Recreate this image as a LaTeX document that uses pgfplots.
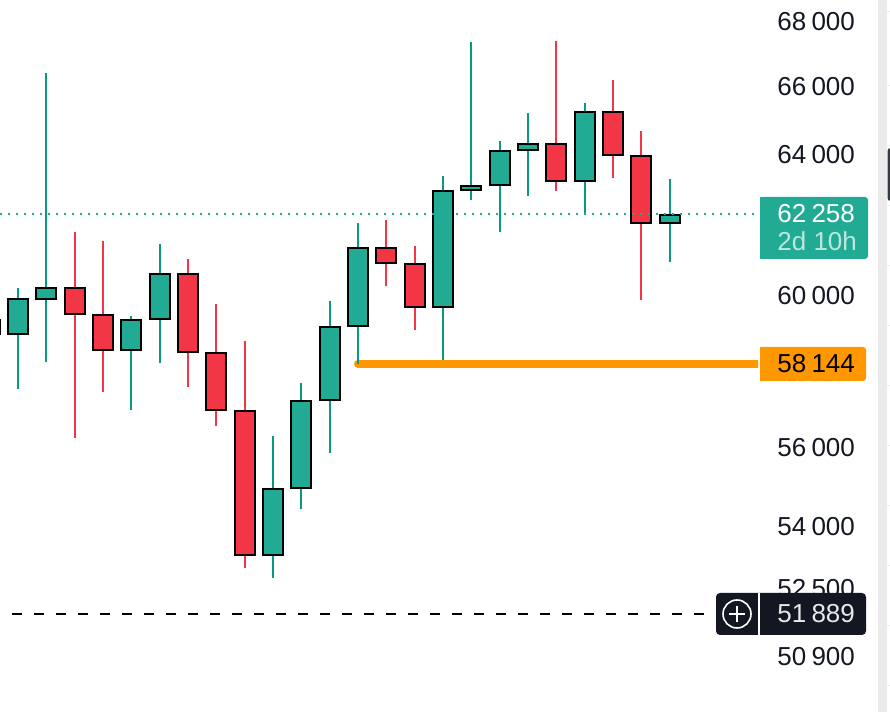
\documentclass[border=0pt]{standalone}
\usepackage{fontspec}
\setmainfont{Liberation Sans}
\usepackage{pgfplots}
\pgfplotsset{compat=1.18}
\definecolor{gbody}{HTML}{22AB94}
\definecolor{gwick}{HTML}{089981}
\definecolor{rbody}{HTML}{F23645}
\definecolor{orangeline}{HTML}{FF9800}
\definecolor{inkdark}{HTML}{131722}
\definecolor{panelgrey}{HTML}{EBEBEB}
\newcommand\ts{\hspace{2.6pt}}
% args: body colour, wick colour, left, centre, right, top, bottom, high, low
\newcommand\candle[9]{%
  \addplot[draw=#2,line width=1pt,line cap=butt,mark=none] coordinates {(#4,#8) (#4,#9)};
  \addplot[draw=black,fill=#1,line width=1pt,mark=none] coordinates {(#3,#6) (#5,#6) (#5,#7) (#3,#7)} --cycle;
}
\begin{document}
\begin{tikzpicture}[x=0.5pt,y=0.5pt]
\path[use as bounding box] (0,0) rectangle (890,712);
\begin{axis}[
  at={(0,0)},anchor=south west,
  scale only axis,width=379pt,height=356pt,
  xmin=0,xmax=758,ymode=log,ymin=49617,ymax=68637,
  axis x line=none,axis y line=right,
  y axis line style={draw=none},
  major tick length=0pt,minor tick length=0pt,
  ytick={50900,52500,54000,56000,60000,64000,66000,68000},
  yticklabels={50\ts 900,52\ts 500,54\ts 000,56\ts 000,60\ts 000,64\ts 000,66\ts 000,68\ts 000},
  minor ytick={},
  yticklabel style={font=\fontsize{13}{13}\selectfont,text=inkdark,anchor=west,inner sep=0pt,xshift=9.5pt,yshift=-0.5pt},
]
% orange level
\addplot[draw=orangeline,line width=4pt,line cap=round,mark=none] coordinates {(358,58144) (770,58144)};
% candles
\candle{gbody}{gwick}{-20}{-10}{0.5}{59322}{58945}{59322}{58945}
\candle{gbody}{gwick}{8}{18}{28}{59892}{58945}{60193}{57486}
\candle{gbody}{gwick}{36}{46}{56}{60193}{59892}{66390}{58197}
\candle{rbody}{rbody}{65}{75}{85}{60193}{59484}{61749}{56216}
\candle{rbody}{rbody}{93}{103}{113}{59457}{58516}{61497}{57406}
\candle{gbody}{gwick}{121}{131}{141}{59322}{58516}{59430}{56938}
\candle{gbody}{gwick}{150}{160}{170}{60578}{59349}{61413}{58170}
\candle{rbody}{rbody}{178}{188}{198}{60578}{58463}{60994}{57538}
\candle{rbody}{rbody}{206}{216}{226}{58437}{56938}{59756}{56524}
\candle{rbody}{rbody}{235}{245}{255}{56911}{53297}{58757}{52981}
\candle{gbody}{gwick}{263}{273}{283}{54924}{53297}{56266}{52740}
\candle{gbody}{gwick}{291}{301}{311}{57171}{54948}{57642}{54425}
\candle{gbody}{gwick}{320}{330}{340}{59133}{57197}{59837}{55832}
\candle{gbody}{gwick}{348}{358}{368}{61301}{59159}{62003}{58144}
\candle{rbody}{rbody}{376}{386}{396}{61301}{60883}{62088}{60248}
\candle{rbody}{rbody}{405}{415}{425}{60855}{59674}{61356}{59052}
\candle{gbody}{gwick}{433}{443}{453}{62914}{59674}{63346}{58250}
\candle{gbody}{gwick}{461}{471}{481}{63057}{62943}{67335}{62656}
\candle{gbody}{gwick}{490}{500}{510}{64072}{63087}{64364}{61749}
\candle{gbody}{gwick}{518}{528}{538}{64276}{64101}{65191}{62771}
\candle{rbody}{rbody}{546}{556}{566}{64276}{63201}{67366}{62914}
\candle{gbody}{gwick}{575}{585}{595}{65221}{63201}{65489}{62258}
\candle{rbody}{rbody}{603}{613}{623}{65221}{63955}{66179}{63288}
\candle{rbody}{rbody}{631}{641}{651}{63926}{62003}{64658}{59865}
\candle{gbody}{gwick}{660}{670}{680}{62230}{62003}{63259}{60911}
% current price and crosshair level
\addplot[draw=gbody,line width=1pt,dash pattern=on 1pt off 3pt,mark=none] coordinates {(0,62258) (756,62258)};
\addplot[draw=black,line width=1pt,dash pattern=on 5pt off 6pt,mark=none] coordinates {(12,51889) (704,51889)};
\end{axis}
% right-hand panel
\fill[panelgrey] (878,0) rectangle (887,712);
\foreach \yy in {11,85,145,205,265,325,385,445,505,565,625,685}
  \fill[panelgrey] (887,712-\yy) rectangle (890,712-\yy-1.5);
\fill[inkdark!85!white,rounded corners=1.5pt] (887.5,712-148) rectangle (895,712-201);
% price tags
\fill[gbody,rounded corners=1.5pt] (760,712-197) rectangle (868,712-259);
\fill[gbody] (760,712-197) rectangle (770,712-259);
\node[anchor=base west,inner sep=0pt,text=white,font=\fontsize{13}{13}\selectfont] at (777,712-223) {62\ts 258};
\node[anchor=base west,inner sep=0pt,text=white!70!gbody,font=\fontsize{13}{13}\selectfont] at (777,712-251) {2d 10h};
\fill[orangeline,rounded corners=1.5pt] (760,712-347) rectangle (866,712-381);
\fill[orangeline] (760,712-347) rectangle (770,712-381);
\node[anchor=base west,inner sep=0pt,text=black,font=\fontsize{13}{13}\selectfont] at (777,712-373) {58\ts 144};
\fill[inkdark,rounded corners=2pt] (716,712-593) rectangle (866,712-635);
\fill[white] (758,712-593) rectangle (760,712-635);
\draw[white,line width=0.8pt] (737,712-614) circle (14);
\draw[white,line width=0.8pt] (729,712-614) -- (745,712-614) (737,712-606) -- (737,712-622);
\node[anchor=base west,inner sep=0pt,text=white!90!inkdark,font=\fontsize{13}{13}\selectfont] at (777,712-623) {51\ts 889};
\end{tikzpicture}
\end{document}
